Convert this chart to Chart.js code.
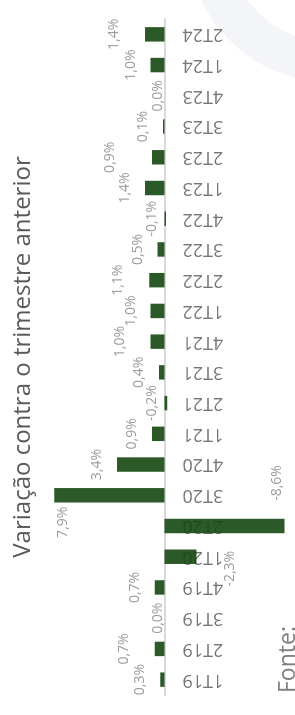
<!DOCTYPE html>
<html>
<head>
<meta charset="utf-8">
<script src="https://cdn.jsdelivr.net/npm/chart.js@4"></script>
<style>
  html, body { margin: 0; padding: 0; background: #ffffff; overflow: hidden; }
  body { width: 295px; height: 715px; position: relative; }
  #wrap {
    position: absolute; left: 0; top: 0;
    width: 715px; height: 295px;
    transform-origin: 0 0;
    transform: rotate(-90deg) translate(-715px, 0);
  }
  canvas { display: block; }
</style>
</head>
<body>
<div id="wrap"><canvas id="c" width="715" height="295"></canvas></div>
<script>
const titleText = 'Variação contra o trimestre anterior';
const sourceText = 'Fonte:';
const categories = ['1T19','2T19','3T19','4T19','1T20','2T20','3T20','4T20','1T21','2T21','3T21','4T21','1T22','2T22','3T22','4T22','1T23','2T23','3T23','4T23','1T24','2T24'];
const values = [0.3, 0.7, 0.0, 0.7, -2.3, -8.6, 7.9, 3.4, 0.9, -0.2, 0.4, 1.0, 1.0, 1.1, 0.5, -0.1, 1.4, 0.9, 0.1, 0.0, 1.0, 1.4];
const valueMin = -8.85;
const valueMax = 8.65;

function fmt(v) {
  return v.toFixed(1).replace('.', ',') + '%';
}

const watermark = {
  id: 'watermark',
  beforeDraw(chart) {
    const ctx = chart.ctx;
    ctx.save();
    ctx.beginPath();
    ctx.arc(775, 330, 122, 0, Math.PI * 2);
    ctx.lineWidth = 40;
    ctx.strokeStyle = '#f4f5f8';
    ctx.stroke();
    ctx.restore();
  }
};

const valueLabels = {
  id: 'valueLabels',
  afterDatasetsDraw(chart) {
    const ctx = chart.ctx;
    const meta = chart.getDatasetMeta(0);
    const y0 = chart.scales.y.getPixelForValue(0);
    const area = chart.chartArea;
    ctx.save();
    ctx.font = '14px "Open Sans"';
    ctx.fillStyle = '#9d9d9d';
    ctx.textAlign = 'center';
    ctx.textBaseline = 'middle';
    const placed = [];
    const hits = (x, y, w) => placed.some(p => Math.abs(p.x - x) < (p.w + w) / 2 + 1 && Math.abs(p.y - y) < 11);
    meta.data.forEach((bar, i) => {
      const v = values[i];
      const text = fmt(v);
      const w = ctx.measureText(text).width;
      let x = bar.x, y;
      if (v > 0) {
        y = bar.y - 20;
        if (y < area.top + 10) { x = bar.x - 27; y = bar.y + 9; }
        else {
          let n = 0;
          while (hits(x, y, w) && n < 3) { y -= 11; n++; }
        }
      } else if (v === 0) {
        y = y0 - 6;
      } else {
        const len = bar.y - y0;
        if (len < 10) {
          y = y0 - 12;
        } else {
          y = bar.y + 33;
          if (y + 8 > area.bottom) { x = bar.x + 43; y = bar.y - 7; }
          else { x = bar.x - 12; }
        }
      }
      placed.push({ x, y, w });
      ctx.fillText(text, x, y);
    });
    ctx.restore();
  }
};

const sourceNote = {
  id: 'sourceNote',
  afterDraw(chart) {
    const ctx = chart.ctx;
    ctx.save();
    ctx.font = '23px "Open Sans"';
    ctx.fillStyle = '#7f7f7f';
    ctx.textAlign = 'left';
    ctx.textBaseline = 'alphabetic';
    ctx.fillText(sourceText, 22, 295);
    ctx.restore();
  }
};

new Chart(document.getElementById('c'), {
  type: 'bar',
  data: {
    labels: categories,
    datasets: [{
      data: values,
      backgroundColor: 'rgba(21,71,17,0.9)',
      borderWidth: 0,
      barPercentage: 0.47,
      categoryPercentage: 1.0
    }]
  },
  options: {
    responsive: false,
    devicePixelRatio: 1,
    animation: false,
    layout: { padding: { left: 20, right: 19, top: 0, bottom: 7 } },
    plugins: {
      legend: { display: false },
      tooltip: { enabled: false },
      title: {
        display: true,
        text: titleText,
        align: 'center',
        color: '#595959',
        font: { family: 'Open Sans', size: 24, weight: 'normal' },
        padding: { top: 9, bottom: 6 }
      }
    },
    scales: {
      x: {
        position: { y: 0 },
        grid: { display: false },
        border: { display: true, color: '#d9d9d9', width: 2 },
        ticks: {
          autoSkip: false,
          minRotation: 90,
          maxRotation: 90,
          padding: 10,
          color: '#767676',
          font: { family: 'Open Sans', size: 18 }
        },
        afterFit(s) { s.height = 0; }
      },
      y: {
        display: false,
        min: valueMin,
        max: valueMax
      }
    }
  },
  plugins: [watermark, valueLabels, sourceNote]
});
</script>
</body>
</html>
